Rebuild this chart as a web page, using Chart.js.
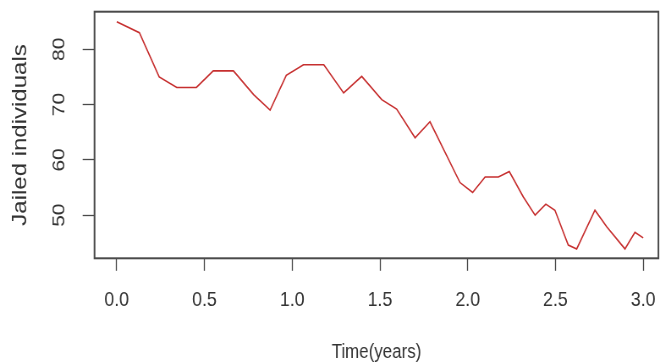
<!DOCTYPE html>
<html>
<head>
<meta charset="utf-8">
<title>Jailed individuals over time</title>
<script src="https://cdn.jsdelivr.net/npm/chart.js@4/dist/chart.umd.min.js"></script>
<style>
  html, body { margin: 0; padding: 0; background: #fff; overflow: hidden; }
  canvas { display: block; }
</style>
</head>
<body>
<!-- The drawing surface is 780 device px wide and shown 660 px wide,
     which gives the plot its horizontally condensed look. -->
<canvas id="chart" width="780" height="364" style="width:660px;height:364px"></canvas>
<script>
// Time in years for each observation
const times = [
  0.000, 0.129, 0.242, 0.342, 0.454, 0.550, 0.665, 0.780, 0.874, 0.966,
  1.064, 1.180, 1.293, 1.396, 1.510, 1.595, 1.700, 1.785, 1.956, 2.028,
  2.099, 2.175, 2.237, 2.317, 2.384, 2.445, 2.497, 2.573, 2.621, 2.725,
  2.792, 2.896, 2.953, 3.000
];

// Number of jailed individuals at each time
const jailed = [
  85.0, 83.0, 75.0, 73.1, 73.1, 76.1, 76.1, 71.8, 69.0, 75.3,
  77.2, 77.2, 72.1, 75.1, 70.9, 69.2, 64.0, 66.9, 55.9, 54.1,
  56.9, 56.9, 57.9, 53.3, 50.0, 52.0, 50.9, 44.6, 43.9, 50.9,
  47.9, 43.9, 46.9, 45.9
];

// Axis tick positions
const xTicks = [0, 0.5, 1, 1.5, 2, 2.5, 3];
const yTicks = [50, 60, 70, 80];

const FONT = '"Liberation Sans", Arial, Helvetica, sans-serif';
const INK = '#333333';
const AXIS = '#4a4a4a';

// Box around the plotting region
const frame = {
  id: 'frame',
  afterDatasetsDraw(chart) {
    const { ctx, chartArea: a } = chart;
    ctx.save();
    ctx.strokeStyle = AXIS;
    ctx.lineWidth = 2;
    ctx.strokeRect(a.left, a.top, a.right - a.left, a.bottom - a.top);
    ctx.restore();
  }
};

new Chart(document.getElementById('chart'), {
  type: 'line',
  data: {
    datasets: [{
      data: times.map((t, i) => ({ x: t, y: jailed[i] })),
      borderColor: '#c62f2f',
      borderWidth: 1.6,
      pointRadius: 0,
      tension: 0,
      fill: false
    }]
  },
  options: {
    responsive: false,
    devicePixelRatio: 1,
    animation: false,
    events: [],
    layout: { padding: { top: 11.7, right: 1.9, left: 0, bottom: 0 } },
    plugins: { legend: { display: false }, tooltip: { enabled: false } },
    scales: {
      x: {
        type: 'linear',
        min: -0.1265,
        max: 3.0866,
        afterBuildTicks: s => { s.ticks = xTicks.map(v => ({ value: v })); },
        afterFit: s => {
          s.height = 105.7;
          s.paddingLeft = 0;
          s.paddingRight = 0;
        },
        border: { display: false },
        grid: {
          drawOnChartArea: false,
          drawTicks: true,
          tickLength: 12.5,
          tickColor: AXIS,
          tickWidth: 1.3
        },
        ticks: {
          autoSkip: false,
          minRotation: 0,
          maxRotation: 0,
          padding: 17,
          color: INK,
          font: { family: FONT, size: 21 },
          callback: v => Number(v).toFixed(1)
        },
        title: {
          display: true,
          text: 'Time(years)',
          color: INK,
          font: { family: FONT, size: 20 },
          padding: { top: 0, bottom: 0 }
        }
      },
      y: {
        type: 'linear',
        min: 42.2,
        max: 86.8,
        afterBuildTicks: s => { s.ticks = yTicks.map(v => ({ value: v })); },
        afterFit: s => {
          s.width = 111.7;
          s.paddingTop = 0;
          s.paddingBottom = 0;
        },
        border: { display: false },
        grid: {
          drawOnChartArea: false,
          drawTicks: true,
          tickLength: 14,
          tickColor: AXIS,
          tickWidth: 1.3
        },
        ticks: {
          autoSkip: false,
          minRotation: 90,
          maxRotation: 90,
          crossAlign: 'center',
          padding: 16,
          color: INK,
          font: { family: FONT, size: 21 },
          callback: v => String(v)
        },
        title: {
          display: true,
          text: 'Jailed individuals',
          color: INK,
          font: { family: FONT, size: 24 },
          padding: { top: 10, bottom: 0 }
        }
      }
    }
  },
  plugins: [frame]
});
</script>
</body>
</html>
